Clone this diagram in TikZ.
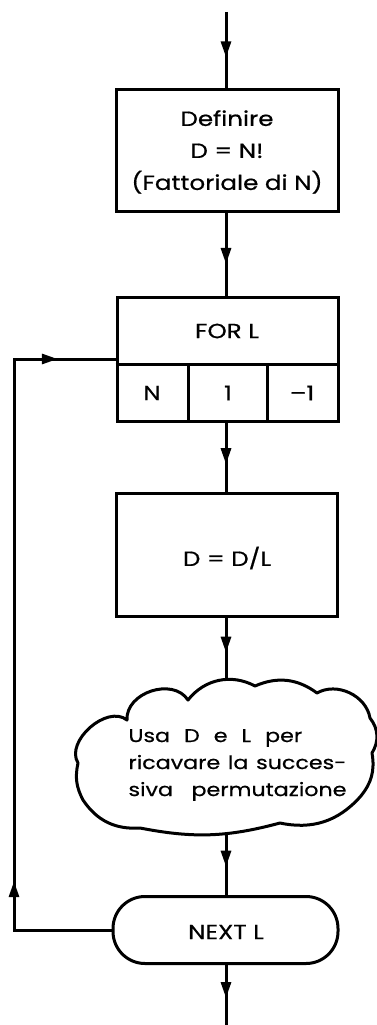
\documentclass[tikz,border=0pt]{standalone}
\usepackage{fontspec}
\setmainfont[FakeStretch=1.2,FakeBold=0.6]{Poppins}
\usetikzlibrary{arrows.meta,decorations.markings}
\begin{document}
\begin{tikzpicture}[x=1pt,y=-1pt,
  every path/.style={line width=3pt},
  txt/.style={font=\fontsize{20.5}{32}\selectfont, inner sep=0pt},
  cltxt/.style={font=\fontsize{18.5}{27}\selectfont, inner sep=0pt},
  boxshape/.style={draw, line width=3pt, inner sep=0pt},
  midarrow/.style={postaction={decorate,decoration={markings,
      mark=at position #1 with {\arrow{Triangle[length=16pt,width=10pt]}}}}},
  looparrows/.style={postaction={decorate,decoration={markings,
      mark=at position 0.19 with {\arrow{Triangle[length=16pt,width=10pt]}},
      mark=at position 0.925 with {\arrow{Triangle[length=16pt,width=10pt]}}}}},
]
\useasboundingbox (0,0) rectangle (377,1025);
% nodes
\coordinate (top) at (226,12);
\node[boxshape, minimum width=222pt, minimum height=122pt] (def) at (227,150) {};
\node[txt, align=center] (deftxt) at (227,152) {Definire\\D = N!\\(Fattoriale di N)};
\node[boxshape, minimum width=221pt, minimum height=124pt] (for) at (227.5,359) {};
\node[txt] (fortxt) at (227,331) {FOR L};
\node[txt] (cN) at (152,393) {N};
\node[txt] (c1) at (228,393) {1};
\node[txt] (cm) at (302,393) {–1};
\node[boxshape, minimum width=221pt, minimum height=123pt] (dl) at (227,555) {};
\node[txt] (dltxt) at (227,558) {D = D/L};
% cloud
\draw[line join=round]
  (127,720) to[bend left=75, looseness=1.1] (188,700)
            to[bend left=40] (255,686)
            to[bend left=30] (317,693)
            to[bend left=55] (370,718)
            to[bend left=35] (372,753)
            to[bend left=25] (360,797)
            to[bend left=30] (280,823)
            to[bend left=13] (140,828)
            to[bend left=30] (83,800)
            to[bend left=20] (78,763)
            to[bend left=80] cycle;
\coordinate (cltop) at (226,681);
\coordinate (clbot) at (226,832);
\node[cltxt, align=left, anchor=west] (cltxt) at (127,765)
  {Usa\hspace{14pt}D\hspace{14pt}e\hspace{14pt}L\hspace{14pt}per\\
   \makebox[218pt][s]{ricavare la succes-}\\
   \makebox[218pt][s]{siva permutazione}};
\node[boxshape, rounded corners=32pt, minimum width=225pt, minimum height=67pt] (next) at (225.5,930) {};
\node[txt] (nexttxt) at (226,932) {NEXT L};
\coordinate (bot) at (226,1025);
\coordinate (bl) at (14,930);
\coordinate (tl) at (14,355);
% connectors
\draw[midarrow=0.6] (top) -- (def.north -| top);
\draw[midarrow=0.62] (def.south -| top) -- (for.north -| top);
\draw[midarrow=0.6] (for.south -| top) -- (dl.north -| top);
\draw[midarrow=0.55] (dl.south -| top) -- (cltop);
\draw[midarrow=0.55] (clbot) -- (next.north -| top);
\draw[midarrow=0.55] (next.south -| top) -- (bot);
\draw[looparrows, line join=miter] (next.west) -- (bl) -- (tl |- for.west) -- (for.west);
% cell dividers
\draw (for.west |- 0,364) -- (for.east |- 0,364);
\draw (188,364) -- (188,421);
\draw (267,364) -- (267,421);
\end{tikzpicture}
\end{document}
